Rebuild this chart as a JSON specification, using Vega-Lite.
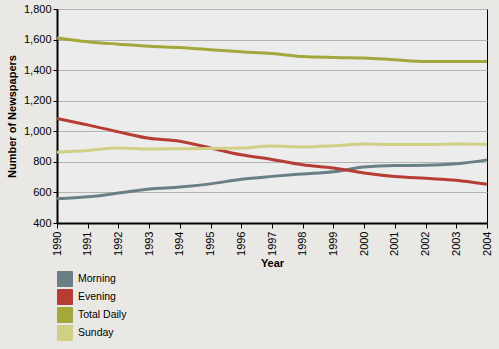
{
  "$schema": "https://vega.github.io/schema/vega-lite/v6.json",
  "autosize": {"type": "none"},
  "width": 430,
  "height": 214,
  "padding": {"left": 57, "top": 9, "right": 12, "bottom": 126},
  "background": "#e9e8e4",
  "config": {
    "view": {"fill": "#ececec", "stroke": "#000000", "strokeWidth": 1},
    "font": "Liberation Sans"
  },
  "data": {
    "values": [
      {"Year": "1990", "Type": "Morning", "Count": 559},
      {"Year": "1991", "Type": "Morning", "Count": 571},
      {"Year": "1992", "Type": "Morning", "Count": 596},
      {"Year": "1993", "Type": "Morning", "Count": 623},
      {"Year": "1994", "Type": "Morning", "Count": 635},
      {"Year": "1995", "Type": "Morning", "Count": 656},
      {"Year": "1996", "Type": "Morning", "Count": 686},
      {"Year": "1997", "Type": "Morning", "Count": 705},
      {"Year": "1998", "Type": "Morning", "Count": 721},
      {"Year": "1999", "Type": "Morning", "Count": 736},
      {"Year": "2000", "Type": "Morning", "Count": 766},
      {"Year": "2001", "Type": "Morning", "Count": 776},
      {"Year": "2002", "Type": "Morning", "Count": 777},
      {"Year": "2003", "Type": "Morning", "Count": 787},
      {"Year": "2004", "Type": "Morning", "Count": 813},
      {"Year": "1990", "Type": "Evening", "Count": 1084},
      {"Year": "1991", "Type": "Evening", "Count": 1042},
      {"Year": "1992", "Type": "Evening", "Count": 996},
      {"Year": "1993", "Type": "Evening", "Count": 954},
      {"Year": "1994", "Type": "Evening", "Count": 935},
      {"Year": "1995", "Type": "Evening", "Count": 891},
      {"Year": "1996", "Type": "Evening", "Count": 846},
      {"Year": "1997", "Type": "Evening", "Count": 816},
      {"Year": "1998", "Type": "Evening", "Count": 781},
      {"Year": "1999", "Type": "Evening", "Count": 760},
      {"Year": "2000", "Type": "Evening", "Count": 727},
      {"Year": "2001", "Type": "Evening", "Count": 704},
      {"Year": "2002", "Type": "Evening", "Count": 692},
      {"Year": "2003", "Type": "Evening", "Count": 680},
      {"Year": "2004", "Type": "Evening", "Count": 653},
      {"Year": "1990", "Type": "Total Daily", "Count": 1611},
      {"Year": "1991", "Type": "Total Daily", "Count": 1586},
      {"Year": "1992", "Type": "Total Daily", "Count": 1570},
      {"Year": "1993", "Type": "Total Daily", "Count": 1556},
      {"Year": "1994", "Type": "Total Daily", "Count": 1548},
      {"Year": "1995", "Type": "Total Daily", "Count": 1533},
      {"Year": "1996", "Type": "Total Daily", "Count": 1520},
      {"Year": "1997", "Type": "Total Daily", "Count": 1509},
      {"Year": "1998", "Type": "Total Daily", "Count": 1489},
      {"Year": "1999", "Type": "Total Daily", "Count": 1483},
      {"Year": "2000", "Type": "Total Daily", "Count": 1480},
      {"Year": "2001", "Type": "Total Daily", "Count": 1468},
      {"Year": "2002", "Type": "Total Daily", "Count": 1457},
      {"Year": "2003", "Type": "Total Daily", "Count": 1456},
      {"Year": "2004", "Type": "Total Daily", "Count": 1457},
      {"Year": "1990", "Type": "Sunday", "Count": 863},
      {"Year": "1991", "Type": "Sunday", "Count": 875},
      {"Year": "1992", "Type": "Sunday", "Count": 891},
      {"Year": "1993", "Type": "Sunday", "Count": 884},
      {"Year": "1994", "Type": "Sunday", "Count": 886},
      {"Year": "1995", "Type": "Sunday", "Count": 888},
      {"Year": "1996", "Type": "Sunday", "Count": 890},
      {"Year": "1997", "Type": "Sunday", "Count": 903},
      {"Year": "1998", "Type": "Sunday", "Count": 898},
      {"Year": "1999", "Type": "Sunday", "Count": 905},
      {"Year": "2000", "Type": "Sunday", "Count": 917},
      {"Year": "2001", "Type": "Sunday", "Count": 913},
      {"Year": "2002", "Type": "Sunday", "Count": 913},
      {"Year": "2003", "Type": "Sunday", "Count": 917},
      {"Year": "2004", "Type": "Sunday", "Count": 915}
    ]
  },
  "mark": {"type": "line", "strokeWidth": 3, "interpolate": "monotone"},
  "encoding": {
    "x": {
      "field": "Year",
      "type": "ordinal",
      "scale": {"type": "point", "padding": 0},
      "axis": {
        "title": "Year",
        "titleFont": "Liberation Sans",
        "titleFontSize": 11,
        "titleFontWeight": "bold",
        "titleColor": "#000000",
        "titlePadding": 2,
        "labelAngle": 270,
        "labelAlign": "right",
        "labelBaseline": "middle",
        "labelFontSize": 11,
        "labelColor": "#000000",
        "labelPadding": 3,
        "tickSize": 5,
        "tickColor": "#000000",
        "domainColor": "#000000",
        "domainWidth": 2,
        "grid": false
      }
    },
    "y": {
      "field": "Count",
      "type": "quantitative",
      "scale": {"domain": [400, 1800], "nice": false},
      "axis": {
        "title": "Number of Newspapers",
        "titleFontSize": 11,
        "titleFontWeight": "bold",
        "titleColor": "#000000",
        "titlePadding": 6,
        "values": [400, 600, 800, 1000, 1200, 1400, 1600, 1800],
        "format": ",d",
        "labelFontSize": 11,
        "labelColor": "#000000",
        "labelPadding": 2,
        "tickSize": 4,
        "tickColor": "#000000",
        "domainColor": "#000000",
        "domainWidth": 2,
        "grid": true,
        "gridColor": "#b4b4b4",
        "gridWidth": 1
      }
    },
    "color": {
      "field": "Type",
      "type": "nominal",
      "scale": {
        "domain": ["Morning", "Evening", "Total Daily", "Sunday"],
        "range": ["#6a7e85", "#b63d34", "#a3a83d", "#cfcf85"]
      },
      "legend": {
        "title": null,
        "orient": "none",
        "legendX": 0,
        "legendY": 262,
        "symbolType": "square",
        "symbolSize": 225,
        "symbolStrokeWidth": 1,
        "rowPadding": -2,
        "labelFontSize": 10.5,
        "labelColor": "#000000",
        "labelOffset": 5,
        "encode": {
          "symbols": {
            "update": {
              "fill": {"scale": "color", "field": "value"},
              "fillOpacity": {"value": 1},
              "stroke": {"value": "#000000"},
              "strokeWidth": {"value": 1}
            }
          }
        }
      }
    }
  }
}
